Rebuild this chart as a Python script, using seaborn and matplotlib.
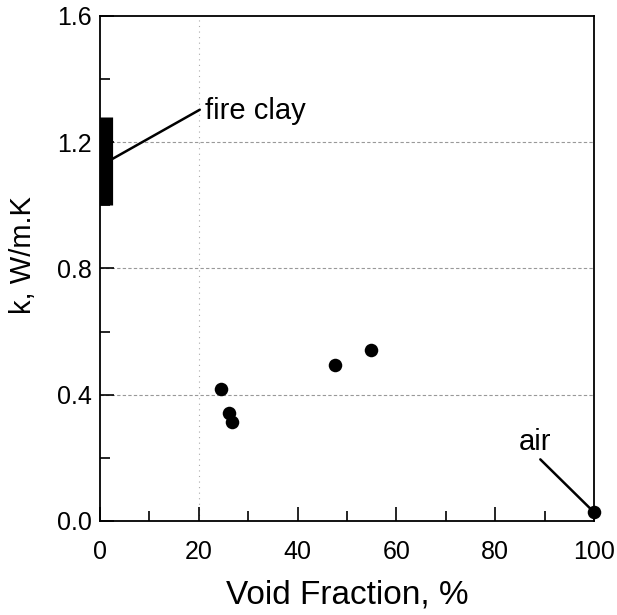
import matplotlib
matplotlib.use("Agg")
import matplotlib.pyplot as plt
import seaborn as sns
import pandas as pd
from matplotlib.ticker import MultipleLocator, FormatStrFormatter

void_fraction = [24.4, 26.2, 26.7, 47.6, 54.8, 100.0]
conductivity = [0.418, 0.342, 0.314, 0.494, 0.540, 0.027]
fire_clay_x = 1.2
fire_clay_range = [1.0, 1.28]

df = pd.DataFrame({"Void Fraction, %": void_fraction, "k, W/m.K": conductivity})

sns.set_style("white")
plt.rcParams['font.family'] = ['Liberation Sans', 'DejaVu Sans']
plt.rcParams['text.color'] = 'black'
plt.rcParams['axes.labelcolor'] = 'black'
plt.rcParams['xtick.color'] = 'black'
plt.rcParams['ytick.color'] = 'black'

fig = plt.figure(figsize=(6.17, 6.15), dpi=100)
ax = fig.add_axes([0.162, 0.153, 0.801, 0.821])

# grid
for yv in [0.4, 0.8, 1.2]:
    ax.axhline(yv, color="#999999", lw=0.8, ls=(0, (3, 2)), zorder=0)
ax.axvline(20, color="#aaaaaa", lw=0.8, ls=(0, (1, 4)), zorder=0)

sns.scatterplot(data=df, x="Void Fraction, %", y="k, W/m.K", ax=ax,
                color="black", s=95, edgecolor="black", linewidth=0, zorder=4,
                clip_on=False)

# fire clay bar
ax.plot([fire_clay_x, fire_clay_x], fire_clay_range, color="black", lw=9.5,
        solid_capstyle="butt", zorder=3)

# leader lines and labels
ax.plot([2.4, 20.2], [1.146, 1.303], color="black", lw=1.8, zorder=3)
ax.text(21.2, 1.30, "fire clay", fontsize=21, va="center", ha="left")
ax.plot([89.1, 100], [0.195, 0.027], color="black", lw=1.8, zorder=3, clip_on=False)
ax.text(88.0, 0.25, "air", fontsize=21, va="center", ha="center")

ax.set_xlim(0, 100)
ax.set_ylim(0, 1.6)
ax.xaxis.set_major_locator(MultipleLocator(20))
ax.xaxis.set_minor_locator(MultipleLocator(10))
ax.yaxis.set_major_locator(MultipleLocator(0.4))
ax.yaxis.set_minor_locator(MultipleLocator(0.2))
ax.yaxis.set_major_formatter(FormatStrFormatter("%.1f"))
ax.tick_params(which="both", direction="in", top=False, right=False,
               bottom=True, left=True)
ax.tick_params(which="major", length=10, width=1.2, labelsize=18)
ax.tick_params(axis="x", which="major", pad=14)
ax.tick_params(axis="y", which="major", pad=6)
ax.tick_params(which="minor", length=7, width=1.2)
for sp in ax.spines.values():
    sp.set_color("black")
    sp.set_linewidth(1.3)
ax.set_xlabel("Void Fraction, %", fontsize=24, labelpad=11)
ax.set_ylabel("k, W/m.K", fontsize=21)
ax.yaxis.set_label_coords(-0.128, 0.526)

fig.savefig("out.png", dpi=100, facecolor="white")
